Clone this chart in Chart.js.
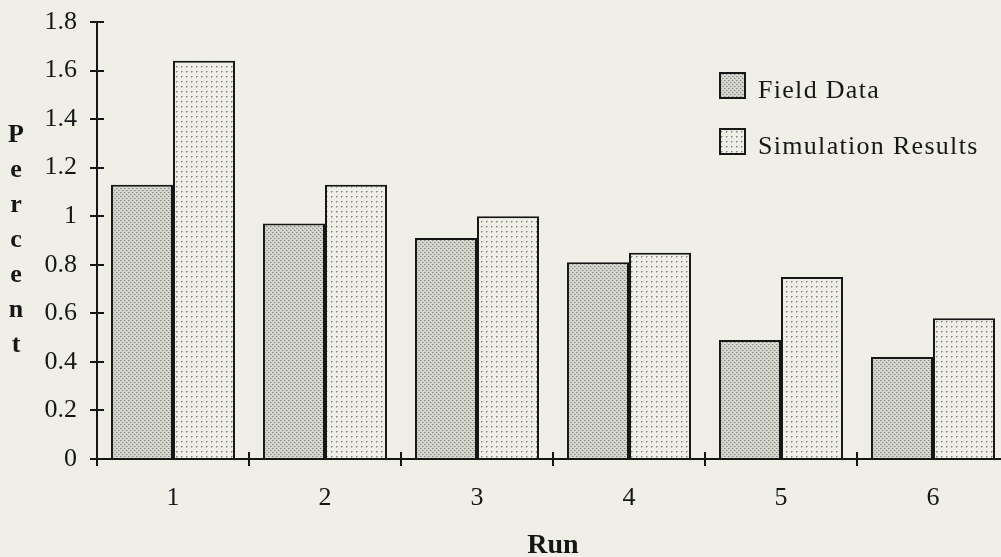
<!DOCTYPE html>
<html>
<head>
<meta charset="utf-8">
<script src="https://cdn.jsdelivr.net/npm/chart.js@4/dist/chart.umd.min.js"></script>
<style>
  html, body { margin: 0; padding: 0; background: #f0efe7; overflow: hidden; width: 1001px; height: 557px; }
  canvas { display: block; }
</style>
</head>
<body>
<canvas id="c" width="1012" height="557"></canvas>
<script>
const runs = ['1', '2', '3', '4', '5', '6'];
const fieldData = [1.13, 0.97, 0.91, 0.81, 0.49, 0.42];
const simulationResults = [1.64, 1.13, 1.00, 0.85, 0.75, 0.58];
const yTickLabels = ['0', '0.2', '0.4', '0.6', '0.8', '1', '1.2', '1.4', '1.6', '1.8'];
const seriesNames = ['Field Data', 'Simulation Results'];
const yTitle = 'Percent';
const xTitle = 'Run';

const SERIF = '"Liberation Serif", "Times New Roman", serif';
const INK = '#161616';

function makePattern(kind) {
  const t = document.createElement('canvas');
  const ctx = t.getContext('2d');
  if (kind === 'field') {
    t.width = 4; t.height = 4;
    ctx.fillStyle = '#d6d6cf';
    ctx.fillRect(0, 0, 4, 4);
    ctx.fillStyle = '#8a8a86';
    ctx.fillRect(0, 0, 1, 1);
    ctx.fillRect(2, 2, 1, 1);
    ctx.fillStyle = '#b0b0aa';
    ctx.fillRect(1, 0, 1, 1);
    ctx.fillRect(3, 2, 1, 1);
  } else {
    t.width = 5; t.height = 5;
    ctx.fillStyle = '#efeee7';
    ctx.fillRect(0, 0, 5, 5);
    ctx.fillStyle = '#858581';
    ctx.fillRect(1, 1, 1, 1);
    ctx.fillStyle = '#b0b0aa';
    ctx.fillRect(2, 1, 1, 1);
    ctx.fillRect(1, 2, 1, 1);
  }
  return document.getElementById('c').getContext('2d').createPattern(t, 'repeat');
}

const fieldPattern = makePattern('field');
const simPattern = makePattern('sim');

const extrasPlugin = {
  id: 'extras',
  afterDraw(chart) {
    const ctx = chart.ctx;
    const xs = chart.scales.x, ys = chart.scales.y;
    const area = chart.chartArea;
    ctx.save();
    ctx.strokeStyle = INK;
    ctx.lineWidth = 2;
    // inward halves of the crossing tick marks
    ys.ticks.forEach(t => {
      const y = Math.round(ys.getPixelForValue(t.value));
      ctx.beginPath(); ctx.moveTo(area.left, y); ctx.lineTo(area.left + 7, y); ctx.stroke();
    });
    const step = xs.getPixelForValue(1) - xs.getPixelForValue(0);
    for (let i = 0; i <= runs.length; i++) {
      const x = Math.round(xs.getPixelForValue(i) - step / 2);
      ctx.beginPath(); ctx.moveTo(x, area.bottom); ctx.lineTo(x, area.bottom - 7); ctx.stroke();
    }
    // stacked vertical y-axis title
    ctx.fillStyle = INK;
    ctx.font = 'bold 26px ' + SERIF;
    ctx.textAlign = 'center';
    ctx.textBaseline = 'alphabetic';
    const letters = yTitle.split('');
    letters.forEach((ch, i) => ctx.fillText(ch, 16, 142 + i * 35));
    // legend
    const ds = chart.data.datasets;
    ctx.font = '26px ' + SERIF;
    ctx.textAlign = 'left';
    try { ctx.letterSpacing = '1.3px'; } catch (e) {}
    ds.forEach((d, i) => {
      const bx = 720, by = 73 + i * 56, s = 25;
      ctx.fillStyle = d.backgroundColor;
      ctx.fillRect(bx, by, s, s);
      ctx.lineWidth = 2;
      ctx.strokeStyle = INK;
      ctx.strokeRect(bx, by, s, s);
      ctx.fillStyle = INK;
      ctx.fillText(d.label, 758, by + 25);
    });
    ctx.restore();
  }
};

new Chart(document.getElementById('c'), {
  type: 'bar',
  data: {
    labels: runs,
    datasets: [
      { label: seriesNames[0], data: fieldData, backgroundColor: fieldPattern, borderColor: INK, borderWidth: 2 },
      { label: seriesNames[1], data: simulationResults, backgroundColor: simPattern, borderColor: INK, borderWidth: 2 }
    ]
  },
  options: {
    responsive: false,
    animation: false,
    devicePixelRatio: 1,
    layout: { padding: { left: 0, right: 3, top: 22, bottom: 0 } },
    datasets: { bar: { categoryPercentage: 0.816, barPercentage: 1.0 } },
    plugins: { legend: { display: false }, tooltip: { enabled: false } },
    scales: {
      x: {
        grid: { drawOnChartArea: false, drawTicks: true, tickLength: 7, color: INK, lineWidth: 2, offset: true },
        border: { display: true, color: INK, width: 2 },
        ticks: { color: INK, font: { family: SERIF, size: 26 }, padding: 17, maxRotation: 0 },
        title: { display: true, text: xTitle, color: INK, font: { family: SERIF, size: 28, weight: 'bold' }, padding: { top: 0, bottom: -6 } },
        afterFit(s) { s.height = 98; s.paddingLeft = 0; s.paddingRight = 0; }
      },
      y: {
        min: 0, max: 1.8,
        grid: { drawOnChartArea: false, drawTicks: true, tickLength: 7, color: INK, lineWidth: 2 },
        border: { display: true, color: INK, width: 2 },
        ticks: {
          stepSize: 0.2, color: INK, font: { family: SERIF, size: 26 }, padding: 13,
          callback: (v, i) => yTickLabels[i]
        },
        afterFit(s) { s.width = 97; s.paddingTop = 0; s.paddingBottom = 0; }
      }
    }
  },
  plugins: [extrasPlugin]
});
</script>
</body>
</html>
